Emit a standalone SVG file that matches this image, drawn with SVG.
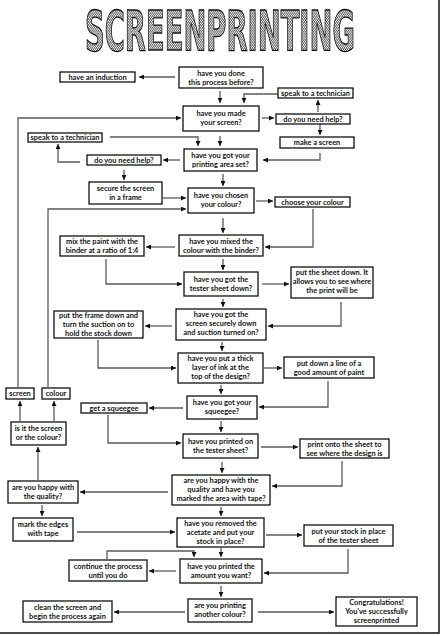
<svg xmlns="http://www.w3.org/2000/svg" width="443" height="636" viewBox="0 0 443 636">
<style>
.b{fill:#fff;stroke:#111;stroke-width:1.3}
.t{font-family:Lato,"Noto Sans",sans-serif;font-weight:700;font-size:7.4px;fill:#111;text-anchor:middle}
.c{fill:none;stroke:#5a5a5a;stroke-width:1.3;marker-end:url(#ah)}
</style>
<defs>
<marker id="ah" markerUnits="userSpaceOnUse" markerWidth="5" markerHeight="5" refX="5" refY="2.5" orient="auto">
<path d="M0,0 L5,2.5 L0,5 z" fill="#111"/>
</marker>
<pattern id="hatch" patternUnits="userSpaceOnUse" width="2" height="2">
<rect width="2" height="2" fill="#fff"/>
<path d="M0,2 L2,0" stroke="#333" stroke-width="0.7"/>
</pattern>
<filter id="gray"><feColorMatrix type="saturate" values="0"/></filter>
</defs>
<rect width="443" height="636" fill="#fff"/>
<path d="M0,633 H439 V0" fill="none" stroke="#111" stroke-width="1.5"/>
<g id="title" filter="url(#gray)">
<text transform="translate(85,50) scale(1,1.45)" x="0" y="0" font-family="'DejaVu Sans Condensed','DejaVu Sans',sans-serif" font-weight="700" font-size="38" textLength="270" lengthAdjust="spacingAndGlyphs" fill="url(#hatch)" stroke="#111" stroke-width="0.9">SCREENPRINTING</text>
</g>
<g id="connectors">
<path class="c" d="M175,77 H139"/>
<path class="c" d="M220,91 V103"/>
<path class="c" d="M278,94 H244 V103"/>
<path class="c" d="M262,118 H274"/>
<path class="c" d="M318,112 V100"/>
<path class="c" d="M320,124 V135"/>
<path class="c" d="M320,153 V160 H263"/>
<path class="c" d="M18,387 V118 H181"/>
<path class="c" d="M110,137 H198 V146"/>
<path class="c" d="M220,136 V146"/>
<path class="c" d="M180,160 H163"/>
<path class="c" d="M80,162 H58 V144"/>
<path class="c" d="M124,170 V180"/>
<path class="c" d="M163,198 H186"/>
<path class="c" d="M223,174 V186"/>
<path class="c" d="M256,201 H273"/>
<path class="c" d="M48,387 V209 H186"/>
<path class="c" d="M313,209 V247 H265"/>
<path class="c" d="M223,218 V233"/>
<path class="c" d="M175,247 H146"/>
<path class="c" d="M106,259 V284 H182"/>
<path class="c" d="M223,259 V270"/>
<path class="c" d="M262,284 H289"/>
<path class="c" d="M341,302 V326 H268"/>
<path class="c" d="M223,299 V307"/>
<path class="c" d="M172,326 H145"/>
<path class="c" d="M98,340 V368 H176"/>
<path class="c" d="M222,342 V351"/>
<path class="c" d="M264,368 H282"/>
<path class="c" d="M328,381 V407 H259"/>
<path class="c" d="M221,385 V394"/>
<path class="c" d="M183,408 H149"/>
<path class="c" d="M108,415 V443 H181"/>
<path class="c" d="M221,421 V432"/>
<path class="c" d="M261,447 H298"/>
<path class="c" d="M342,461 V486 H272"/>
<path class="c" d="M222,462 V473"/>
<path class="c" d="M168,492 H80"/>
<path class="c" d="M38,480 V447"/>
<path class="c" d="M20,421 V401"/>
<path class="c" d="M54,421 V401"/>
<path class="c" d="M42,505 V516"/>
<path class="c" d="M77,532 H175"/>
<path class="c" d="M221,507 V516"/>
<path class="c" d="M266,535 H302"/>
<path class="c" d="M348,549 V573 H264"/>
<path class="c" d="M221,548 V557"/>
<path class="c" d="M176,571 H149"/>
<path class="c" d="M107,559 V551 H194 V557"/>
<path class="c" d="M221,586 V597"/>
<path class="c" d="M185,612 H114"/>
<path class="c" d="M258,612 H334"/>
</g>
<g id="n1"><rect class="b" x="60" y="72" width="75" height="10"/><text class="t" x="97.5" y="79.7">have an induction</text></g>
<g id="n2"><rect class="b" x="179" y="67" width="84" height="21"/><text class="t" x="221" y="75.7">have you done</text><text class="t" x="221" y="84.7">this process before?</text></g>
<g id="n3"><rect class="b" x="278" y="88" width="75" height="10"/><text class="t" x="315.5" y="95.7">speak to a technician</text></g>
<g id="n4"><rect class="b" x="183" y="106" width="76" height="25"/><text class="t" x="221" y="116.2">have you made</text><text class="t" x="221" y="125.2">your screen?</text></g>
<g id="n5"><rect class="b" x="276" y="114" width="74" height="10"/><text class="t" x="313" y="121.7">do you need help?</text></g>
<g id="n6"><rect class="b" x="280" y="137" width="74" height="11"/><text class="t" x="317" y="145.2">make a screen</text></g>
<g id="n7"><rect class="b" x="28" y="133" width="74" height="9"/><text class="t" x="65" y="140.2">speak to a technician</text></g>
<g id="n8"><rect class="b" x="184" y="149" width="73" height="22"/><text class="t" x="220.5" y="158.2">have you got your</text><text class="t" x="220.5" y="167.2">printing area set?</text></g>
<g id="n9"><rect class="b" x="87" y="155" width="74" height="10"/><text class="t" x="124" y="162.7">do you need help?</text></g>
<g id="n10"><rect class="b" x="89" y="182" width="73" height="22"/><text class="t" x="125.5" y="191.2">secure the screen</text><text class="t" x="125.5" y="200.2">in a frame</text></g>
<g id="n11"><rect class="b" x="188" y="188" width="66" height="25"/><text class="t" x="221" y="198.2">have you chosen</text><text class="t" x="221" y="207.2">your colour?</text></g>
<g id="n12"><rect class="b" x="275" y="197" width="75" height="10"/><text class="t" x="312.5" y="204.7">choose your colour</text></g>
<g id="n13"><rect class="b" x="179" y="235" width="84" height="21"/><text class="t" x="221" y="243.7">have you mixed the</text><text class="t" x="221" y="252.7">colour with the binder?</text></g>
<g id="n14"><rect class="b" x="60" y="236" width="84" height="20"/><text class="t" x="102" y="244.2">mix the paint with the</text><text class="t" x="102" y="253.2">binder at a ratio of 1:4</text></g>
<g id="n15"><rect class="b" x="184" y="272" width="74" height="24"/><text class="t" x="221" y="281.7">have you got the</text><text class="t" x="221" y="290.7">tester sheet down?</text></g>
<g id="n16"><rect class="b" x="291" y="267" width="82" height="31"/><text class="t" x="332" y="275.2">put the sheet down. It</text><text class="t" x="332" y="284.2">allows you to see where</text><text class="t" x="332" y="293.2">the print will be</text></g>
<g id="n17"><rect class="b" x="176" y="309" width="90" height="31"/><text class="t" x="221" y="317.2">have you got the</text><text class="t" x="221" y="326.2">screen securely down</text><text class="t" x="221" y="335.2">and suction turned on?</text></g>
<g id="n18"><rect class="b" x="54" y="311" width="89" height="27"/><text class="t" x="98.5" y="317.7">put the frame down and</text><text class="t" x="98.5" y="326.7">turn the suction on to</text><text class="t" x="98.5" y="335.7">hold the stock down</text></g>
<g id="n19"><rect class="b" x="178" y="353" width="85" height="30"/><text class="t" x="220.5" y="361.2">have you put a thick</text><text class="t" x="220.5" y="370.2">layer of ink at the</text><text class="t" x="220.5" y="379.2">top of the design?</text></g>
<g id="n20"><rect class="b" x="284" y="357" width="90" height="21"/><text class="t" x="329" y="365.7">put down a line of a</text><text class="t" x="329" y="374.7">good amount of paint</text></g>
<g id="n21"><rect class="b" x="187" y="396" width="70" height="23"/><text class="t" x="222" y="405.2">have you got your</text><text class="t" x="222" y="414.2">squeegee?</text></g>
<g id="n22"><rect class="b" x="81" y="403" width="66" height="10"/><text class="t" x="114" y="410.7">get a squeegee</text></g>
<g id="n23"><rect class="b" x="183" y="434" width="75" height="24"/><text class="t" x="220.5" y="443.7">have you printed on</text><text class="t" x="220.5" y="452.7">the tester sheet?</text></g>
<g id="n24"><rect class="b" x="300" y="439" width="89" height="19"/><text class="t" x="344.5" y="446.7">print onto the sheet to</text><text class="t" x="344.5" y="455.7">see where the design is</text></g>
<g id="n25"><rect class="b" x="172" y="475" width="98" height="30"/><text class="t" x="221" y="483.2">are you happy with the</text><text class="t" x="221" y="492.2">quality and have you</text><text class="t" x="221" y="501.2">marked the area with tape?</text></g>
<g id="n26"><rect class="b" x="8" y="481" width="70" height="22"/><text class="t" x="43" y="490.2">are you happy with</text><text class="t" x="43" y="499.2">the quality?</text></g>
<g id="n27"><rect class="b" x="11" y="422" width="55" height="23"/><text class="t" x="38.5" y="431.2">is it the screen</text><text class="t" x="38.5" y="440.2">or the colour?</text></g>
<g id="n28"><rect class="b" x="6" y="388" width="28" height="11"/><text class="t" x="20" y="396.2">screen</text></g>
<g id="n29"><rect class="b" x="42" y="388" width="28" height="11"/><text class="t" x="56" y="396.2">colour</text></g>
<g id="n30"><rect class="b" x="13" y="518" width="60" height="23"/><text class="t" x="43" y="527.2">mark the edges</text><text class="t" x="43" y="536.2">with tape</text></g>
<g id="n31"><rect class="b" x="177" y="518" width="87" height="29"/><text class="t" x="220.5" y="525.7">have you removed the</text><text class="t" x="220.5" y="534.7">acetate and put your</text><text class="t" x="220.5" y="543.7">stock in place?</text></g>
<g id="n32"><rect class="b" x="304" y="525" width="89" height="21"/><text class="t" x="348.5" y="533.7">put your stock in place</text><text class="t" x="348.5" y="542.7">of the tester sheet</text></g>
<g id="n33"><rect class="b" x="180" y="559" width="82" height="24"/><text class="t" x="221" y="568.7">have you printed the</text><text class="t" x="221" y="577.7">amount you want?</text></g>
<g id="n34"><rect class="b" x="69" y="560" width="78" height="21"/><text class="t" x="108" y="568.7">continue the process</text><text class="t" x="108" y="577.7">until you do</text></g>
<g id="n35"><rect class="b" x="188" y="599" width="64" height="23"/><text class="t" x="220" y="608.2">are you printing</text><text class="t" x="220" y="617.2">another colour?</text></g>
<g id="n36"><rect class="b" x="23" y="601" width="89" height="21"/><text class="t" x="67.5" y="609.7">clean the screen and</text><text class="t" x="67.5" y="618.7">begin the process again</text></g>
<g id="n37"><rect class="b" x="336" y="597" width="81" height="29"/><text class="t" x="376.5" y="604.7">Congratulations!</text><text class="t" x="376.5" y="613.7">You've successfully</text><text class="t" x="376.5" y="622.7">screenprinted</text></g>
</svg>
